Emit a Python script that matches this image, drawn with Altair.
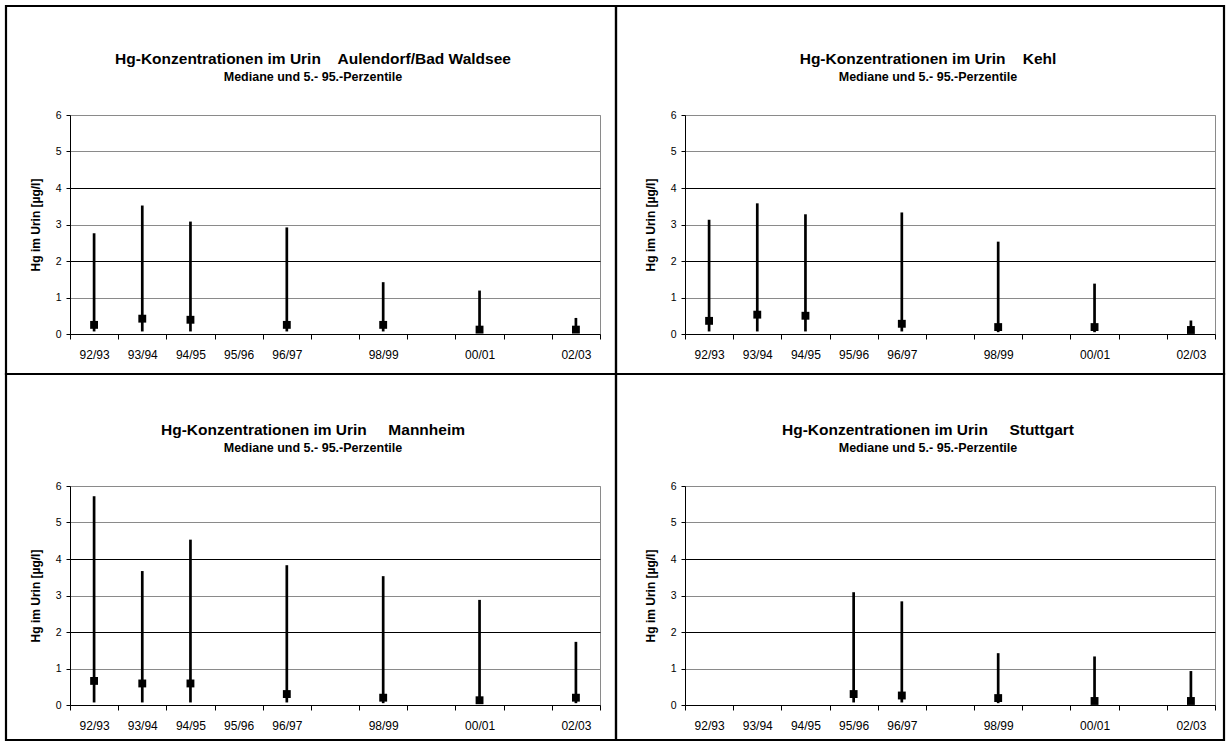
import json
import altair as alt
import pandas as pd

FONT = "Liberation Sans"
W, H = 530, 219

# x categories (school years); labels shown on the axis
SEASONS = ["92/93", "93/94", "94/95", "95/96", "96/97", "97/98",
           "98/99", "99/00", "00/01", "01/02", "02/03"]
AXIS_LABELS = ["92/93", "93/94", "94/95", "95/96", "96/97", "",
               "98/99", "", "00/01", "", "02/03"]
Y_TICKS = [0, 1, 2, 3, 4, 5, 6]

SUBTITLE = "Mediane und 5.- 95.-Perzentile"
Y_TITLE = "Hg im Urin [µg/l]"

# Aulendorf / Bad Waldsee
aul_title = "Hg-Konzentrationen im Urin\u00a0\u00a0\u00a0 Aulendorf/Bad Waldsee"
aul_seasons = ["92/93", "93/94", "94/95", "96/97", "98/99", "00/01", "02/03"]
aul_median = [0.25, 0.42, 0.39, 0.25, 0.25, 0.12, 0.12]
aul_p95 = [2.76, 3.52, 3.08, 2.92, 1.42, 1.19, 0.44]
aul_p5 = [0.07, 0.07, 0.07, 0.07, 0.07, 0.05, 0.05]

# Kehl
kehl_title = "Hg-Konzentrationen im Urin\u00a0\u00a0\u00a0 Kehl"
kehl_seasons = ["92/93", "93/94", "94/95", "96/97", "98/99", "00/01", "02/03"]
kehl_median = [0.36, 0.53, 0.50, 0.28, 0.19, 0.19, 0.11]
kehl_p95 = [3.13, 3.58, 3.28, 3.33, 2.53, 1.38, 0.37]
kehl_p5 = [0.07, 0.07, 0.07, 0.07, 0.05, 0.05, 0.05]

# Mannheim
man_title = "Hg-Konzentrationen im Urin\u00a0\u00a0\u00a0\u00a0 Mannheim"
man_seasons = ["92/93", "93/94", "94/95", "96/97", "98/99", "00/01", "02/03"]
man_median = [0.66, 0.59, 0.59, 0.30, 0.20, 0.13, 0.20]
man_p95 = [5.72, 3.67, 4.53, 3.83, 3.53, 2.88, 1.73]
man_p5 = [0.07, 0.07, 0.07, 0.07, 0.05, 0.05, 0.05]

# Stuttgart
stu_title = "Hg-Konzentrationen im Urin\u00a0\u00a0\u00a0\u00a0 Stuttgart"
stu_seasons = ["95/96", "96/97", "98/99", "00/01", "02/03"]
stu_median = [0.30, 0.26, 0.19, 0.11, 0.11]
stu_p95 = [3.09, 2.84, 1.42, 1.33, 0.93]
stu_p5 = [0.07, 0.07, 0.05, 0.05, 0.05]


def make_axes():
    label_expr = ("(datum.value % 1 == 0.5) ? " + json.dumps(AXIS_LABELS)
                  + "[floor(datum.value)] : ''")
    x_axis = alt.Axis(
        values=[i * 0.5 for i in range(2 * len(SEASONS) + 1)],
        labelExpr=label_expr,
        tickOpacity={"condition": {"test": "datum.value % 1 == 0", "value": 1}, "value": 0},
        grid=False, title=None, labelOverlap=False, labelFlush=False,
        tickSize=5, tickColor="black", domainColor="black", tickWidth=1,
        labelFontSize=12, labelColor="black", labelPadding=10, labelFont=FONT,
    )
    y_axis = alt.Axis(
        values=Y_TICKS, grid=True, gridOpacity=1, gridWidth=1,
        gridColor={"condition": {"test": "datum.value == 2 || datum.value == 4",
                                 "value": "#000000"}, "value": "#8a8a8a"},
        tickSize=4, tickColor="black", domainColor="black",
        labelFontSize=10.5, labelColor="black", labelPadding=5, labelFont=FONT,
        labelOverlap=False,
        title=Y_TITLE, titleFontSize=12, titleFontWeight="bold", titleColor="black",
        titleFont=FONT, titlePadding=13,
    )
    return x_axis, y_axis


def panel(title_text, seasons, p5, med, p95, border):
    df = pd.DataFrame({"season": seasons, "p5": p5, "median": med, "p95": p95})
    df["pos"] = [SEASONS.index(s) + 0.5 for s in seasons]

    x_axis, y_axis = make_axes()
    xs = alt.Scale(domain=[0, len(SEASONS)], nice=False, zero=False)
    ys = alt.Scale(domain=[0, 6], nice=False)

    rules = alt.Chart(df).mark_rule(color="black", strokeWidth=2.7).encode(
        x=alt.X("pos:Q", scale=xs, axis=x_axis),
        y=alt.Y("p95:Q", scale=ys, axis=y_axis),
        y2="p5:Q")
    squares = alt.Chart(df).mark_square(size=62, color="black", opacity=1, filled=True).encode(
        x=alt.X("pos:Q", scale=xs, axis=x_axis),
        y=alt.Y("median:Q", scale=ys, axis=y_axis))

    t_df = pd.DataFrame({"t": [title_text]})
    s_df = pd.DataFrame({"t": [SUBTITLE]})
    title = alt.Chart(t_df).mark_text(
        font=FONT, fontSize=15.5, fontWeight="bold", color="black",
        align="center", baseline="alphabetic").encode(
        x=alt.value(243), y=alt.value(-51), text="t:N")
    subtitle = alt.Chart(s_df).mark_text(
        font=FONT, fontSize=12.5, fontWeight="bold", color="black",
        align="center", baseline="alphabetic").encode(
        x=alt.value(243), y=alt.value(-34), text="t:N")

    bx1, bx2, by1, by2 = border
    frame = alt.Chart(pd.DataFrame({"k": [0]})).mark_rect(
        fill="transparent", stroke="black", strokeWidth=2.2).encode(
        x=alt.value(bx1), x2=alt.value(bx2), y=alt.value(by1), y2=alt.value(by2))

    return alt.layer(frame, rules, squares, title, subtitle).properties(width=W, height=H)


p1 = panel(aul_title, aul_seasons, aul_p5, aul_median, aul_p95, (-64, 546, -109, 259))
p2 = panel(kehl_title, kehl_seasons, kehl_p5, kehl_median, kehl_p95, (-69, 539, -109, 259))
p3 = panel(man_title, man_seasons, man_p5, man_median, man_p95, (-64, 546, -112, 254))
p4 = panel(stu_title, stu_seasons, stu_p5, stu_median, stu_p95, (-69, 539, -112, 254))

chart = alt.concat(
    p1, p2, p3, p4, columns=2,
    spacing={"row": 152, "column": 85}, bounds="flush",
).properties(
    padding={"left": 4, "top": 4, "right": 2, "bottom": 1},
    background="white",
).configure_view(stroke="#8a8a8a", strokeWidth=1)

chart.save("out.html", embed_options={"renderer": "svg", "actions": False})
